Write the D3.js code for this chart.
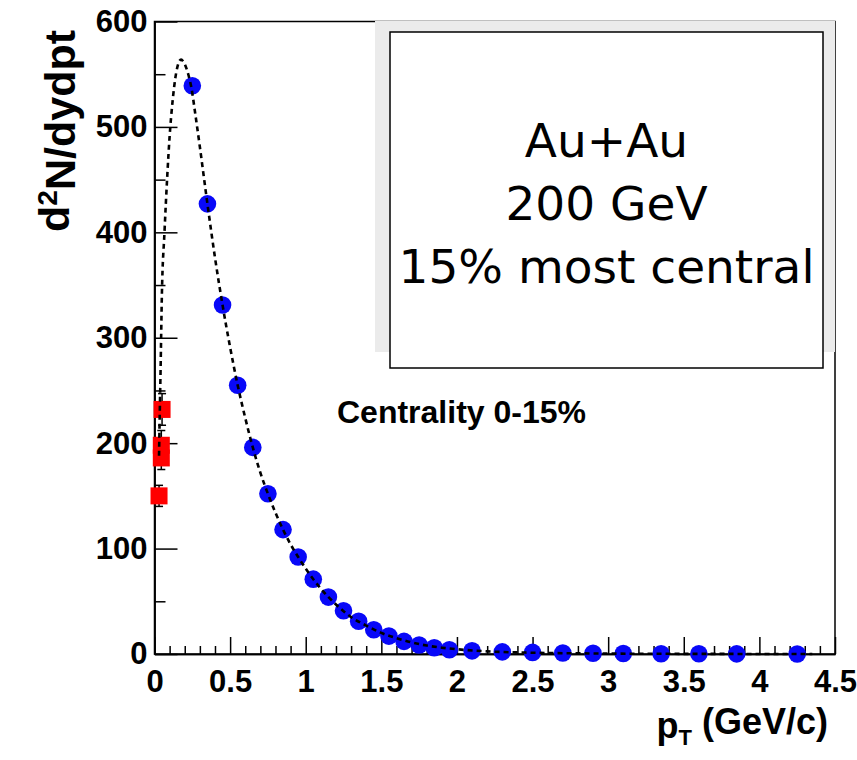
<!DOCTYPE html>
<html>
<head>
<meta charset="utf-8">
<title>pT spectrum, Au+Au 200 GeV</title>
<script src="https://d3js.org/d3.v7.min.js"></script>
<style>
  body { margin: 0; background: #fff; }
  svg { display: block; }
  .ax text { font-family: "Liberation Sans", Arial, sans-serif; font-weight: bold; font-size: 31px; fill: #000; }
  .ax path, .ax line { stroke: #000; stroke-width: 1.5; }
</style>
</head>
<body>
<div id="chart"></div>
<script>
// blue points (measured spectrum)
const ptBlue = [0.25, 0.35, 0.45, 0.55, 0.65, 0.75, 0.85, 0.95, 1.05, 1.15, 1.25, 1.35, 1.45, 1.55, 1.65, 1.75, 1.85, 1.95,
                2.1, 2.3, 2.5, 2.7, 2.9, 3.1, 3.35, 3.6, 3.85, 4.25];
const yieldBlue = [539, 427, 331, 255, 196, 152, 118, 92, 71, 54, 41, 31, 23, 17, 12, 8.5, 6, 4,
                   3, 2, 1.5, 1, 0.7, 0.5, 0.3, 0.2, 0.1, 0.05];

// red squares (low pT points) with errors
const ptRed = [0.05, 0.045, 0.045, 0.03];
const yieldRed = [232, 198, 186, 150];
const errRed = [15, 14, 11, 10];

// dashed fit curve
const ptCurve = [0.03, 0.035, 0.04, 0.049, 0.066, 0.085, 0.1, 0.12, 0.143, 0.16, 0.176, 0.19, 0.21, 0.225, 0.243, 0.27, 0.3,
                 0.35, 0.4, 0.45, 0.5, 0.55, 0.6, 0.65, 0.7, 0.75, 0.8, 0.85, 0.9, 0.95, 1.0, 1.1, 1.2, 1.3, 1.4,
                 1.5, 1.6, 1.7, 1.8, 1.9, 2.0, 2.2, 2.5, 3.0, 3.5, 4.0, 4.35];
const yieldCurve = [188, 230, 268, 342, 400, 455, 491, 525, 551, 561, 564, 562, 556, 549, 538, 512, 481,
                    427, 376, 331, 291, 255, 224, 196, 172, 152, 134, 118, 104, 92, 81, 62, 47, 35, 27,
                    20, 15, 11, 8, 6, 4.5, 2.5, 1.2, 0.4, 0.15, 0.05, 0.03];

const xMajor = [0, 0.5, 1, 1.5, 2, 2.5, 3, 3.5, 4, 4.5];
const xMinor = d3.range(0, 46).map(i => i / 10).filter(v => Math.round(v * 10) % 5 !== 0);
const yMajor = [0, 100, 200, 300, 400, 500, 600];
const yMinor = [50, 150, 250, 350, 450, 550];

const boxLines = ["Au+Au", "200 GeV", "15% most central"];

const W = 857, H = 760;
const x = d3.scaleLinear().domain([0, 4.5]).range([154.5, 835]);
const y = d3.scaleLinear().domain([0, 600]).range([654, 21.5]);

const svg = d3.select("#chart").append("svg").attr("width", W).attr("height", H);

// frame
svg.append("rect")
  .attr("x", x(0)).attr("y", y(600))
  .attr("width", x(4.5) - x(0)).attr("height", y(0) - y(600))
  .attr("fill", "none").attr("stroke", "#000").attr("stroke-width", 1.5);

// axes
const fmt = d => d === 0 ? "0" : d3.format("")(d);
svg.append("g").attr("class", "ax")
  .attr("transform", `translate(0,${y(0)})`)
  .call(d3.axisBottom(x).tickValues(xMajor).tickFormat(fmt).tickSize(-17).tickSizeOuter(0).tickPadding(16));
svg.append("g").attr("class", "ax")
  .attr("transform", `translate(0,${y(0)})`)
  .call(d3.axisBottom(x).tickValues(xMinor).tickFormat("").tickSize(-8).tickSizeOuter(0));
svg.append("g").attr("class", "ax")
  .attr("transform", `translate(${x(0)},0)`)
  .call(d3.axisLeft(y).tickValues(yMajor).tickSize(-23).tickSizeOuter(0).tickPadding(7));
svg.append("g").attr("class", "ax")
  .attr("transform", `translate(${x(0)},0)`)
  .call(d3.axisLeft(y).tickValues(yMinor).tickFormat("").tickSize(-11).tickSizeOuter(0));

// axis titles
const yt = svg.append("text")
  .attr("transform", "translate(69,30) rotate(-90)")
  .attr("text-anchor", "end")
  .style("font-family", "Liberation Sans, Arial, sans-serif")
  .style("font-weight", "bold").style("font-size", "43px");
yt.append("tspan").text("d");
yt.append("tspan").attr("dy", "-0.42em").style("font-size", "28px").text("2");
yt.append("tspan").attr("dy", "0.42em").text("N/dydpt");

const xt = svg.append("text")
  .attr("x", 828).attr("y", 738)
  .attr("text-anchor", "end")
  .style("font-family", "Liberation Sans, Arial, sans-serif")
  .style("font-weight", "bold").style("font-size", "36px");
xt.append("tspan").text("p");
xt.append("tspan").attr("dy", "0.3em").style("font-size", "22px").text("T");
xt.append("tspan").attr("dy", "-0.3em").text(" (GeV/c)");

svg.append("text")
  .attr("x", 337).attr("y", 423)
  .style("font-family", "Liberation Sans, Arial, sans-serif")
  .style("font-weight", "bold").style("font-size", "32px")
  .text("Centrality 0-15%");

// blue points
svg.append("g").selectAll("circle")
  .data(ptBlue.map((p, i) => ({ p, v: yieldBlue[i] })))
  .join("circle")
  .attr("cx", d => x(d.p)).attr("cy", d => y(d.v))
  .attr("r", 8.8).attr("fill", "#0808f8");

// red points with error bars
const red = ptRed.map((p, i) => ({ p, v: yieldRed[i], e: errRed[i] }));
const eb = svg.append("g").attr("stroke", "#000").attr("stroke-width", 1.5);
eb.selectAll("line.v").data(red).join("line").attr("class", "v")
  .attr("x1", d => x(d.p)).attr("x2", d => x(d.p))
  .attr("y1", d => y(d.v - d.e)).attr("y2", d => y(d.v + d.e));
eb.selectAll("line.t").data(red.flatMap(d => [d.v - d.e, d.v + d.e].map(v => ({ p: d.p, v }))))
  .join("line").attr("class", "t")
  .attr("x1", d => x(d.p) - 4).attr("x2", d => x(d.p) + 4)
  .attr("y1", d => y(d.v)).attr("y2", d => y(d.v));
svg.append("g").selectAll("rect")
  .data(red)
  .join("rect")
  .attr("x", d => x(d.p) - 8.5).attr("y", d => y(d.v) - 8.5)
  .attr("width", 17).attr("height", 17).attr("fill", "#ff0000");

// dashed curve
svg.append("path")
  .datum(ptCurve.map((p, i) => [p, yieldCurve[i]]))
  .attr("d", d3.line().x(d => x(d[0])).y(d => y(d[1])).curve(d3.curveMonotoneX))
  .attr("fill", "none").attr("stroke", "#000").attr("stroke-width", 2.6)
  .attr("stroke-dasharray", "5,4");

// text box (grey shade + white box)
svg.append("rect").attr("x", 375).attr("y", 21).attr("width", 460).attr("height", 331).attr("fill", "#ebebeb");
svg.append("rect").attr("x", 390).attr("y", 32).attr("width", 433).attr("height", 336)
  .attr("fill", "#fff").attr("stroke", "#000").attr("stroke-width", 1.5);
svg.append("g").selectAll("text")
  .data(boxLines)
  .join("text")
  .attr("x", 606.5).attr("y", (d, i) => 157 + i * 63)
  .attr("text-anchor", "middle")
  .style("font-family", "DejaVu Sans, sans-serif").style("font-size", "47px")
  .text(d => d);
</script>
</body>
</html>
